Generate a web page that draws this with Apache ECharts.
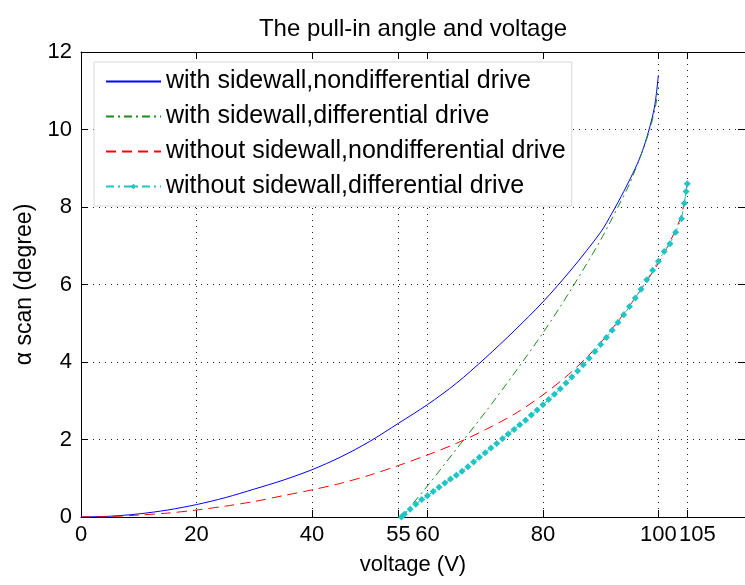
<!DOCTYPE html>
<html>
<head>
<meta charset="utf-8">
<script src="https://cdn.jsdelivr.net/npm/echarts@6/dist/echarts.min.js"></script>
<style>
  html, body { margin: 0; padding: 0; background: #fff; }
  #pullIn { width: 745px; height: 585px; }
</style>
</head>
<body>
<div id="pullIn"></div>
<script>
// x tick values (MATLAB custom ticks)
const xTicks = [0, 20, 40, 55, 60, 80, 100, 105];

// with sidewall, nondifferential drive  [voltage, angle]
const withSideNonDiff = [
  [0, 0], [5, 0.02], [10, 0.08], [15, 0.18], [20, 0.32], [25, 0.5], [30, 0.72],
  [35, 0.95], [40, 1.22], [45, 1.55], [50, 1.95], [55, 2.42], [60, 2.9],
  [65, 3.45], [70, 4.1], [75, 4.8], [80, 5.55], [85, 6.4], [90, 7.35], [92, 7.85],
  [94, 8.4], [96, 9.0], [97, 9.35], [98, 9.8], [99, 10.35], [99.5, 10.75], [100, 11.4]
];

// with sidewall, differential drive
const withSideDiff = [
  [55.5, 0], [60, 0.8], [65, 1.75], [70, 2.7], [75, 3.7], [80, 4.75], [85, 5.9],
  [90, 7.15], [93, 8.0], [95, 8.6], [97, 9.35], [98.5, 10.0], [99.5, 10.6], [100, 11.1]
];

// without sidewall, nondifferential drive
const withoutSideNonDiff = [
  [0, 0], [5, 0.01], [10, 0.05], [15, 0.1], [20, 0.18], [25, 0.28], [30, 0.4],
  [35, 0.55], [40, 0.7], [45, 0.87], [50, 1.08], [55, 1.33], [60, 1.6], [65, 1.9],
  [70, 2.25], [75, 2.65], [80, 3.15], [85, 3.75], [90, 4.5], [95, 5.45],
  [100, 6.55], [102, 7.1], [104, 7.8], [105, 8.6]
];

// without sidewall, differential drive
const withoutSideDiff = [
  [55.5, 0], [56, 0.07], [57, 0.2], [58, 0.33], [59, 0.45], [60, 0.55], [61, 0.66],
  [62, 0.77], [63, 0.88], [64, 0.98], [65, 1.08], [66, 1.18], [67, 1.3], [68, 1.42],
  [69, 1.54], [70, 1.66], [71, 1.78], [72, 1.9], [73, 2.02], [74, 2.14], [75, 2.26],
  [76, 2.38], [77, 2.5], [78, 2.63], [79, 2.76], [80, 2.9], [81, 3.03], [82, 3.17],
  [83, 3.31], [84, 3.46], [85, 3.61], [86, 3.77], [87, 3.93], [88, 4.1], [89, 4.27],
  [90, 4.45], [91, 4.63], [92, 4.82], [93, 5.02], [94, 5.22], [95, 5.43], [96, 5.65],
  [97, 5.88], [98, 6.12], [99, 6.37], [100, 6.6], [101, 6.85], [102, 7.05],
  [103, 7.35], [104, 7.7], [104.5, 8.1], [104.8, 8.4], [105, 8.6]
];

const font = "Arial, 'Liberation Sans', sans-serif";
const gridDots = { color: "#222", width: 1, type: [1, 5] };
const noSymbol = { opacity: 0 };

let chart = echarts.init(document.getElementById("pullIn"));

const option = {
  animation: false,
  backgroundColor: "#fff",
  title: {
    text: "The pull-in angle and voltage",
    left: 408,
    top: 12,
    textAlign: "center",
    textStyle: { fontFamily: font, fontSize: 24, fontWeight: "normal", color: "#000" }
  },
  grid: { left: 81, top: 52, right: 0, bottom: 68 },
  legend: {
    orient: "vertical",
    left: 94,
    top: 62,
    padding: [7, 6, 7, 11],
    itemWidth: 55,
    itemHeight: 7,
    itemGap: 10,
    backgroundColor: "#fff",
    borderColor: "#d8d8d8",
    borderWidth: 1,
    textStyle: { fontFamily: font, fontSize: 25, color: "#000" },
    data: [
      { name: "with sidewall,nondifferential drive", itemStyle: noSymbol },
      { name: "with sidewall,differential drive", itemStyle: noSymbol },
      { name: "without sidewall,nondifferential drive", itemStyle: noSymbol },
      { name: "without sidewall,differential drive" }
    ]
  },
  xAxis: [
    {
      type: "value",
      min: 0,
      max: 115,
      name: "voltage (V)",
      nameLocation: "middle",
      nameGap: 37,
      nameTextStyle: { fontFamily: font, fontSize: 22, color: "#000" },
      axisLine: { onZero: false, lineStyle: { color: "#000", width: 1 } },
      axisTick: { inside: true, length: 7, customValues: xTicks, lineStyle: { color: "#000" } },
      axisLabel: {
        customValues: xTicks,
        hideOverlap: false,
        margin: 7,
        fontFamily: font,
        fontSize: 22,
        color: "#000",
        formatter: function(v) {
          return v === 105 ? "{s|105}" : String(v);
        },
        rich: {
          s: { fontFamily: font, fontSize: 22, color: "#000", padding: [0, 0, 0, 20] }
        }
      },
      splitLine: { show: true, lineStyle: gridDots }
    },
    {
      type: "value",
      position: "top",
      min: 0,
      max: 115,
      axisLine: { onZero: false, lineStyle: { color: "#000", width: 1 } },
      axisTick: { inside: true, length: 7, customValues: xTicks, lineStyle: { color: "#000" } },
      axisLabel: { show: false },
      splitLine: { show: false }
    }
  ],
  yAxis: [
    {
      type: "value",
      min: 0,
      max: 12,
      interval: 2,
      name: "α scan (degree)",
      nameLocation: "middle",
      nameGap: 40,
      nameTextStyle: { fontFamily: font, fontSize: 23, color: "#000" },
      axisLine: { show: true, onZero: false, lineStyle: { color: "#000", width: 1 } },
      axisTick: { show: true, inside: true, length: 7, lineStyle: { color: "#000" } },
      axisLabel: { margin: 9, fontFamily: font, fontSize: 22, color: "#000" },
      splitLine: { show: true, lineStyle: gridDots }
    },
    {
      type: "value",
      position: "right",
      min: 0,
      max: 12,
      interval: 2,
      axisLine: { show: true, onZero: false, lineStyle: { color: "#000", width: 1 } },
      axisTick: { show: true, inside: true, length: 7, lineStyle: { color: "#000" } },
      axisLabel: { show: false },
      splitLine: { show: false }
    }
  ],
  series: [
    {
      name: "with sidewall,nondifferential drive",
      type: "line",
      data: withSideNonDiff,
      smooth: 0.3,
      symbol: "none",
      itemStyle: { color: "#0000ff" },
      lineStyle: { color: "#0000ff", width: 1 }
    },
    {
      name: "with sidewall,differential drive",
      type: "line",
      data: withSideDiff,
      smooth: 0.3,
      symbol: "none",
      itemStyle: { color: "#1a8c1a" },
      lineStyle: { color: "#1a8c1a", width: 1, type: [8, 4, 2, 4] }
    },
    {
      name: "without sidewall,nondifferential drive",
      type: "line",
      data: withoutSideNonDiff,
      smooth: 0.3,
      symbol: "none",
      itemStyle: { color: "#ff0000" },
      lineStyle: { color: "#ff0000", width: 1, type: [10, 6] }
    },
    {
      name: "without sidewall,differential drive",
      type: "line",
      data: withoutSideDiff,
      symbol: "diamond",
      symbolSize: 7,
      itemStyle: { color: "#1fc4c4" },
      lineStyle: { color: "#1fc4c4", width: 1, type: [8, 4, 2, 4] }
    }
  ]
};

chart.setOption(option);

window.addEventListener("resize", function() {
  chart.resize();
});
</script>
</body>
</html>
